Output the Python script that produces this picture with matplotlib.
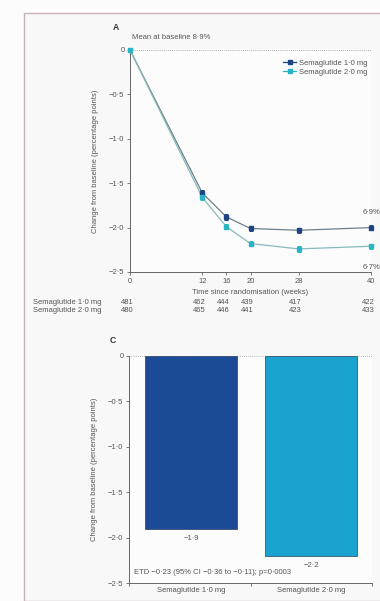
"""Semaglutide 1.0 mg vs 2.0 mg: HbA1c change over time (A) and at week 40 (C)."""
import numpy as np
from matplotlib import pyplot as plt
from matplotlib.patches import Rectangle
from matplotlib.lines import Line2D

plt.rcParams['font.family'] = ['Liberation Sans', 'DejaVu Sans']

# panel A data
weeks = [0, 12, 16, 20, 28, 40]
sema_1 = [0, -1.61, -1.88, -2.01, -2.03, -2.00]
sema_2 = [0, -1.66, -1.99, -2.18, -2.24, -2.21]
err_1 = [0, 0.03, 0.03, 0.03, 0.03, 0.03]
err_2 = [0, 0.03, 0.03, 0.03, 0.03, 0.03]
at_risk_1 = [481, 462, 444, 439, 417, 422]
at_risk_2 = [480, 465, 446, 441, 423, 433]
series_names = ['Semaglutide 1·0 mg', 'Semaglutide 2·0 mg']

# panel C data
bar_names = ['Semaglutide 1·0 mg', 'Semaglutide 2·0 mg']
bar_values = [-1.9, -2.2]
bar_labels = ['−1·9', '−2·2']

y_ticks = [0, -0.5, -1.0, -1.5, -2.0, -2.5]
y_tick_labels = ['0', '−0·5', '−1·0', '−1·5', '−2·0', '−2·5']

col_1 = '#1d4385'
col_2 = '#29b4c4'
line_1 = '#6e7f8a'
line_2 = '#86b9bd'
bar_col_1 = '#1b4a96'
bar_col_2 = '#1ba3cf'
txt = '#555555'
fs = 5.5
ms = 3.2

W, H = 380, 601
fig = plt.figure(figsize=(W / 100, H / 100), dpi=100, facecolor='#fdfcfc')


def px(x, y):
    return x / W, 1 - y / H


# frame of the figure page
fig.patches.append(Rectangle((24 / W, 0), 1, 1 - 13 / H, transform=fig.transFigure,
                             facecolor='#f8f8f8', edgecolor='#c9b3b9', lw=1.0, zorder=-5))


def style_axis(ax):
    ax.set_facecolor('#fcfcfc')
    for s in ['top', 'right']:
        ax.spines[s].set_visible(False)
    for s in ['left', 'bottom']:
        ax.spines[s].set_color('#666666')
        ax.spines[s].set_linewidth(0.7)
    ax.tick_params(colors='#666666', labelcolor=txt, labelsize=fs, length=2.5, width=0.6, pad=1.5)
    ax.set_ylim(-2.5, 0)
    ax.set_yticks(y_ticks)
    ax.set_yticklabels(y_tick_labels)
    ax.axhline(0, color='#9a9a9a', lw=0.6, ls=(0, (1, 1.5)), zorder=1)


# ---- panel A
axA = fig.add_axes([130 / W, 1 - 272 / H, 241 / W, 222 / H])
style_axis(axA)
axA.set_xlim(0, 40)
axA.set_xticks(weeks)
axA.plot(weeks, sema_1, color=line_1, lw=0.9, zorder=2)
axA.plot(weeks, sema_2, color=line_2, lw=0.9, zorder=2)
axA.errorbar(weeks[1:], sema_1[1:], yerr=err_1[1:], fmt='s', ms=ms, color=col_1,
             ecolor=col_1, elinewidth=0.7, capsize=1.3, capthick=0.7, zorder=3, clip_on=False)
axA.errorbar(weeks[1:], sema_2[1:], yerr=err_2[1:], fmt='s', ms=ms, color=col_2,
             ecolor=col_2, elinewidth=0.7, capsize=1.3, capthick=0.7, zorder=3, clip_on=False)
axA.plot([0], [0], 's', ms=ms, color=col_2, zorder=4, clip_on=False)
axA.set_xlabel('Time since randomisation (weeks)', fontsize=fs, color=txt, labelpad=3)
axA.set_ylabel('Change from baseline (percentage points)', fontsize=fs, color=txt, labelpad=7)
axA.text(0.3, 0.1, 'Mean at baseline 8·9%', fontsize=fs, color=txt, va='bottom')
axA.text(41.6, sema_1[-1] + 0.13, '6·9%', fontsize=fs, color=txt, ha='right', va='bottom')
axA.text(41.6, sema_2[-1] - 0.2, '6·7%', fontsize=fs, color=txt, ha='right', va='top')

handles = [Line2D([], [], color=col_1, marker='s', ms=ms, lw=0.9),
           Line2D([], [], color=col_2, marker='s', ms=ms, lw=0.9)]
axA.legend(handles, series_names, loc='upper right', bbox_to_anchor=(1.0, 0.97), frameon=False,
           fontsize=fs, labelcolor=txt, handlelength=1.6, handletextpad=0.5,
           borderaxespad=0, labelspacing=0.2)
fig.text(*px(113, 28), 'A', fontsize=6.2, fontweight='bold', color='#333333', va='center')

# numbers at risk
for row, (name, vals) in enumerate(zip(series_names, [at_risk_1, at_risk_2])):
    yy = 1 - (303 + row * 8) / H
    fig.text(33 / W, yy, name, fontsize=fs, color=txt, va='center')
    for wk, v in zip(weeks, vals):
        xf = axA.transData.transform((wk, 0))[0] / fig.bbox.width
        fig.text(xf - 3 / W, yy, str(v), fontsize=fs, color=txt, va='center', ha='center')

# ---- panel C
axC = fig.add_axes([129 / W, 1 - 583 / H, 243 / W, 227 / H])
style_axis(axC)
xpos = np.arange(len(bar_names))
axC.set_xlim(-0.52, 1.51)
axC.bar(xpos, bar_values, width=0.77, color=[bar_col_1, bar_col_2],
        edgecolor='#2a3f5f', linewidth=0.5, zorder=2)
for xp, v, lab in zip(xpos, bar_values, bar_labels):
    axC.text(xp, v - 0.07, lab, fontsize=fs, color=txt, ha='center', va='top')
axC.set_xticks(xpos)
axC.set_xticklabels(bar_names)
axC.tick_params(axis='x', length=0, pad=3)
axC.set_xticks([-0.52, 0.5, 1.51], minor=True)
axC.tick_params(axis='x', which='minor', length=2.5, width=0.6, colors='#666666')
axC.set_ylabel('Change from baseline (percentage points)', fontsize=fs, color=txt, labelpad=7)
axC.text(-0.48, -2.38, 'ETD −0·23 (95% CI −0·36 to −0·11); p=0·0003', fontsize=fs, color=txt,
         va='center')
fig.text(*px(110, 340), 'C', fontsize=6.2, fontweight='bold', color='#333333', va='center')

fig.savefig('out.png', dpi=100, facecolor=fig.get_facecolor())
